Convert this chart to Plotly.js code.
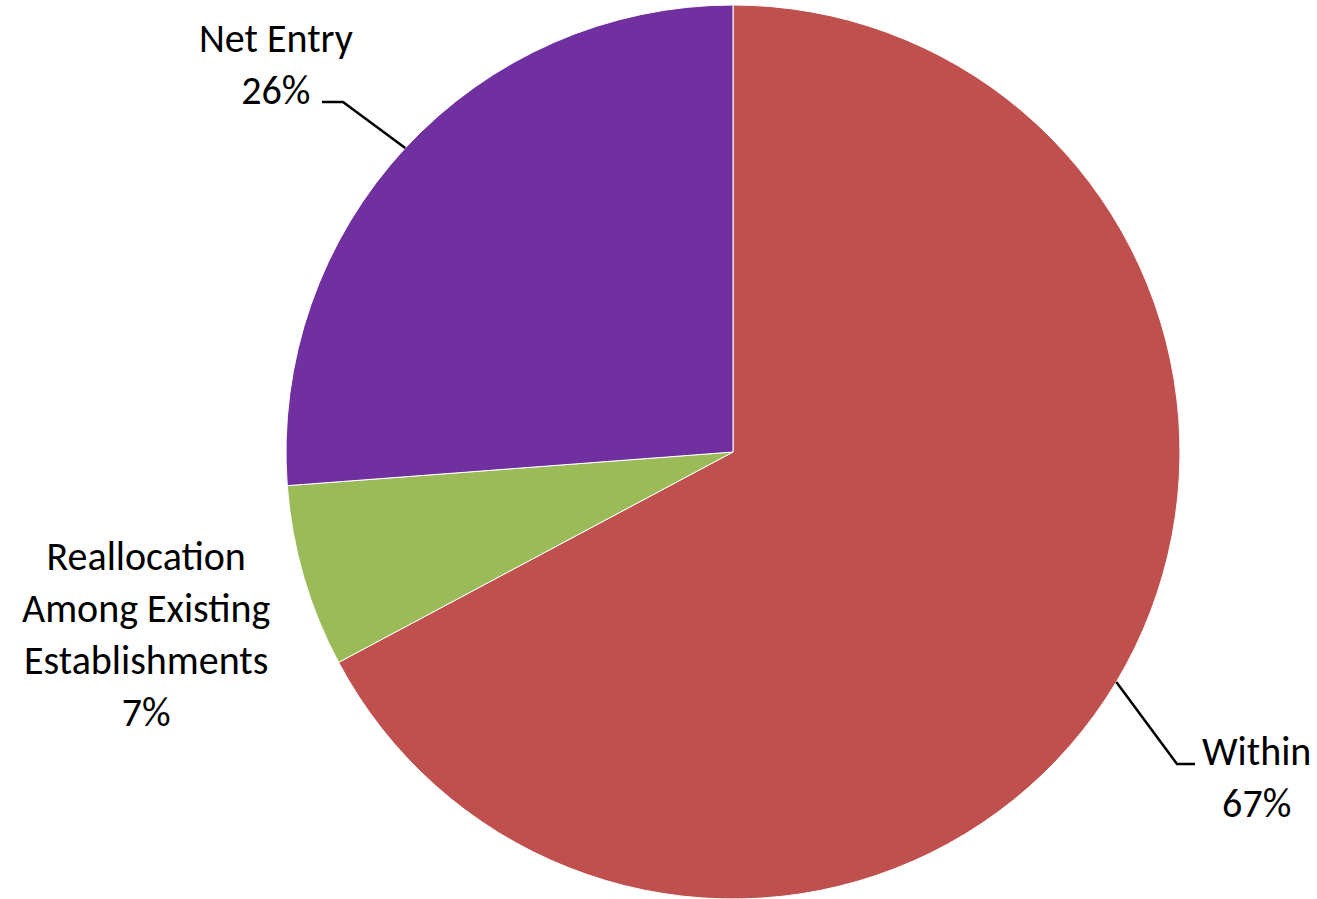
<!DOCTYPE html>
<html>
<head>
<meta charset="utf-8">
<script src="https://cdn.plot.ly/plotly-3.0.1.min.js"></script>
<style>html,body{margin:0;padding:0;background:#fff;overflow:hidden}</style>
</head>
<body>
<div id="chart" style="width:1317px;height:899px"></div>
<script>
// ---- data ----
const categories = ["Within", "Reallocation<br>Among Existing<br>Establishments", "Net Entry"];
const shares = [67.2, 6.6, 26.2];
const sliceColors = ["#C0504D", "#9BBB59", "#7030A0"];

// ---- layout constants (pixels) ----
const W = 1317, H = 899;
const CX = 733, CY = 452, R = 447;
const FONT = "Carlito, Calibri, Lato, sans-serif";
const FONT_SIZE = 40;
// label placement: centre of label block, optional leader elbow and end
const labelPlace = [
  {x: 1256, y: 777, elbow: [1177, 764], end: [1195, 764]},
  {x: 146, y: 634, elbow: null, end: null},
  {x: 276, y: 65, elbow: [343, 102], end: [322, 102]}
];

const px = x => x / W;
const py = y => 1 - y / H;

const total = shares.reduce((a, b) => a + b, 0);
const pct = shares.map(v => v / total * 100);

const annotations = [];
const shapes = [];
let cum = 0;
shares.forEach((v, i) => {
  const mid = (cum + v / 2) / total * 2 * Math.PI; // clockwise from 12 o'clock
  cum += v;
  const p = labelPlace[i];
  annotations.push({
    xref: "paper", yref: "paper",
    x: px(p.x), y: py(p.y),
    xanchor: "center", yanchor: "middle",
    text: categories[i] + "<br>" + Math.round(pct[i]) + "%",
    showarrow: false,
    align: "center",
    font: {family: FONT, size: FONT_SIZE, color: "#000"}
  });
  if (p.elbow) {
    const sx = CX + R * Math.sin(mid);
    const sy = CY - R * Math.cos(mid);
    shapes.push({
      type: "path", xref: "paper", yref: "paper",
      path: `M ${px(sx)} ${py(sy)} L ${px(p.elbow[0])} ${py(p.elbow[1])} L ${px(p.end[0])} ${py(p.end[1])}`,
      line: {color: "#000", width: 2.5}
    });
  }
});

const trace = {
  type: "pie",
  labels: categories,
  values: shares,
  sort: false,
  direction: "clockwise",
  rotation: 0,
  textinfo: "none",
  hoverinfo: "label+percent",
  marker: {colors: sliceColors, line: {color: "#ffffff", width: 1}},
  domain: {x: [(CX - R) / W, (CX + R) / W], y: [py(CY + R), py(CY - R)]},
  showlegend: false
};

Plotly.newPlot("chart", [trace], {
  width: W, height: H,
  margin: {l: 0, r: 0, t: 0, b: 0},
  paper_bgcolor: "#ffffff",
  showlegend: false,
  annotations: annotations,
  shapes: shapes
}, {displayModeBar: false, staticPlot: true});
</script>
</body>
</html>
